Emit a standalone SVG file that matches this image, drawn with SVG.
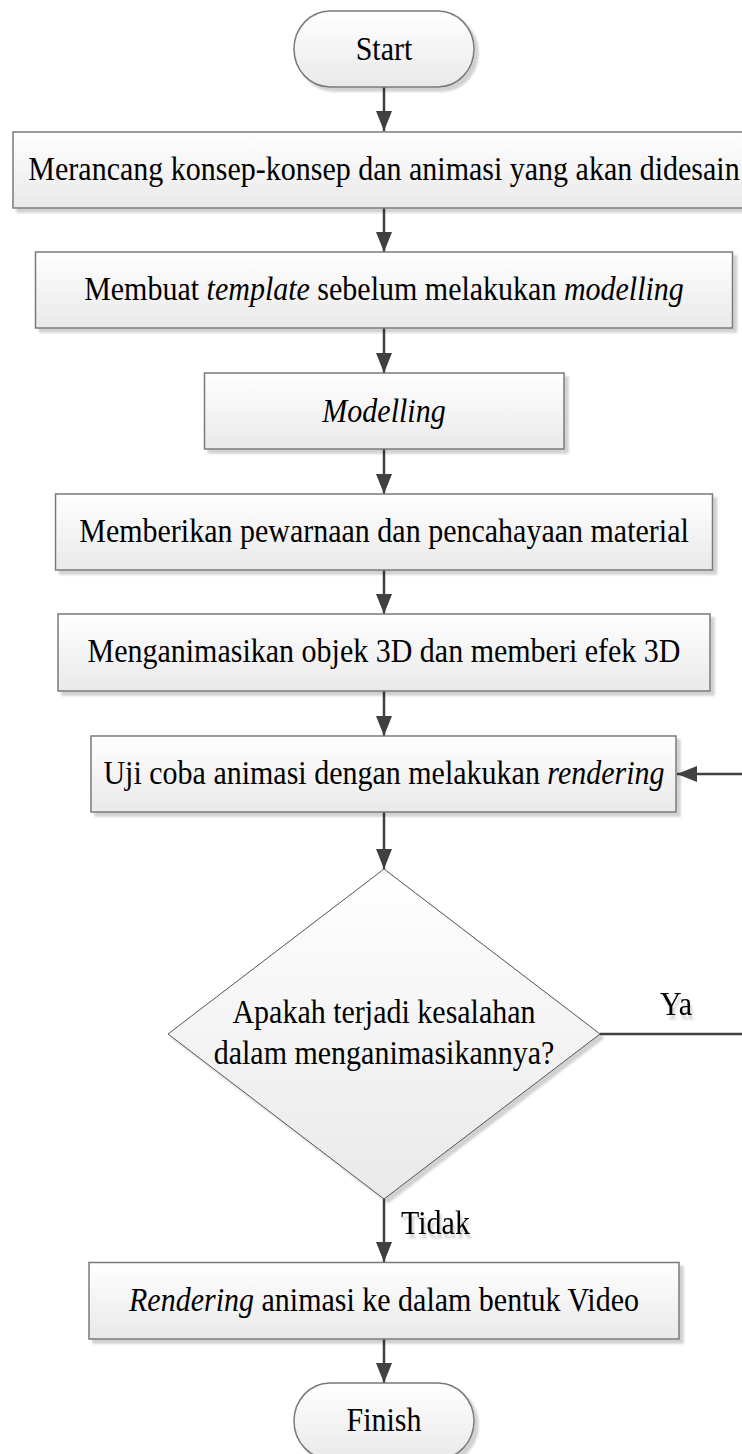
<svg xmlns="http://www.w3.org/2000/svg" width="742" height="1454" viewBox="0 0 742 1454">
<defs>
<linearGradient id="g" x1="0" y1="0" x2="0" y2="1">
<stop offset="0" stop-color="#ffffff"/>
<stop offset="1" stop-color="#e9e9e9"/>
</linearGradient>
<filter id="sh" x="-5%" y="-10%" width="115%" height="130%">
<feDropShadow dx="4" dy="4" stdDeviation="1.2" flood-color="#000" flood-opacity="0.18"/>
</filter>
<filter id="tsh" x="-20%" y="-20%" width="150%" height="160%">
<feDropShadow dx="2" dy="4" stdDeviation="1" flood-color="#000" flood-opacity="0.2"/>
</filter>
<marker id="ah" markerUnits="userSpaceOnUse" markerWidth="20" markerHeight="16" refX="20" refY="8" orient="auto">
<path d="M0,0 L20,8 L0,16 z" fill="#404040"/>
</marker>
</defs>
<style>
.box{fill:url(#g);stroke:#7a7a7a;stroke-width:1.5;filter:url(#sh)}
.dia{fill:url(#g);stroke:#555;stroke-width:1;filter:url(#sh)}
.t{font-family:"Liberation Serif","Times New Roman",serif;font-size:30px;fill:#000;text-anchor:middle}
.i{font-style:italic}
.lbl{font-family:"Liberation Serif","Times New Roman",serif;font-size:30px;fill:#000;filter:url(#tsh)}
.c{fill:none;stroke:#404040;stroke-width:2.5}
</style>
<g id="connectors">
<line class="c" x1="384" y1="87" x2="384" y2="131" marker-end="url(#ah)"/>
<line class="c" x1="384" y1="208" x2="384" y2="252" marker-end="url(#ah)"/>
<line class="c" x1="384" y1="328" x2="384" y2="373" marker-end="url(#ah)"/>
<line class="c" x1="384" y1="449" x2="384" y2="494" marker-end="url(#ah)"/>
<line class="c" x1="384" y1="570" x2="384" y2="614" marker-end="url(#ah)"/>
<line class="c" x1="384" y1="691" x2="384" y2="736" marker-end="url(#ah)"/>
<line class="c" x1="384" y1="812" x2="384" y2="869" marker-end="url(#ah)"/>
<line class="c" x1="384" y1="1199" x2="384" y2="1262" marker-end="url(#ah)"/>
<line class="c" x1="384" y1="1339" x2="384" y2="1383" marker-end="url(#ah)"/>
<polyline class="c" points="600,1034 752,1034"/>
<line class="c" x1="752" y1="774" x2="677" y2="774" marker-end="url(#ah)"/>
<text class="lbl" transform="translate(660,1015) scale(1,1.12)">Ya</text>
<text class="lbl" transform="translate(401,1234) scale(1,1.12)">Tidak</text>
</g>
<g id="start">
<rect class="box" x="294" y="11" width="180" height="76" rx="36" ry="38"/>
<text class="t" transform="translate(384,60) scale(1,1.12)">Start</text>
</g>
<g id="n1">
<rect class="box" x="13" y="132" width="742" height="76"/>
<text class="t" transform="translate(384,180) scale(1,1.12)">Merancang konsep-konsep dan animasi yang akan didesain</text>
</g>
<g id="n2">
<rect class="box" x="35.5" y="252" width="697" height="76"/>
<text class="t" transform="translate(384,300) scale(1,1.12)">Membuat <tspan class="i">template</tspan> sebelum melakukan <tspan class="i">modelling</tspan></text>
</g>
<g id="n3">
<rect class="box" x="204.5" y="373" width="359.5" height="76"/>
<text class="t i" transform="translate(384,421.5) scale(1,1.12)">Modelling</text>
</g>
<g id="n4">
<rect class="box" x="55.5" y="494" width="657" height="76"/>
<text class="t" transform="translate(384,541.5) scale(1,1.12)">Memberikan pewarnaan dan pencahayaan material</text>
</g>
<g id="n5">
<rect class="box" x="58" y="614" width="652" height="77"/>
<text class="t" transform="translate(384,662) scale(1,1.12)">Menganimasikan objek 3D dan memberi efek 3D</text>
</g>
<g id="n6">
<rect class="box" x="91" y="736" width="585" height="76"/>
<text class="t" transform="translate(384,783.5) scale(1,1.12)">Uji coba animasi dengan melakukan <tspan class="i">rendering</tspan></text>
</g>
<g id="decision">
<polygon class="dia" points="384,869 600,1034 384,1199 168,1034"/>
<text class="t" transform="translate(384,1023) scale(1,1.12)">Apakah terjadi kesalahan</text>
<text class="t" transform="translate(384,1064) scale(1,1.12)">dalam menganimasikannya?</text>
</g>
<g id="n7">
<rect class="box" x="89" y="1262.5" width="590" height="76.5"/>
<text class="t" transform="translate(384,1311) scale(1,1.12)"><tspan class="i">Rendering</tspan> animasi ke dalam bentuk Video</text>
</g>
<g id="finish">
<rect class="box" x="294" y="1383" width="180" height="76" rx="36" ry="38"/>
<text class="t" transform="translate(384,1431) scale(1,1.12)">Finish</text>
</g>
</svg>
